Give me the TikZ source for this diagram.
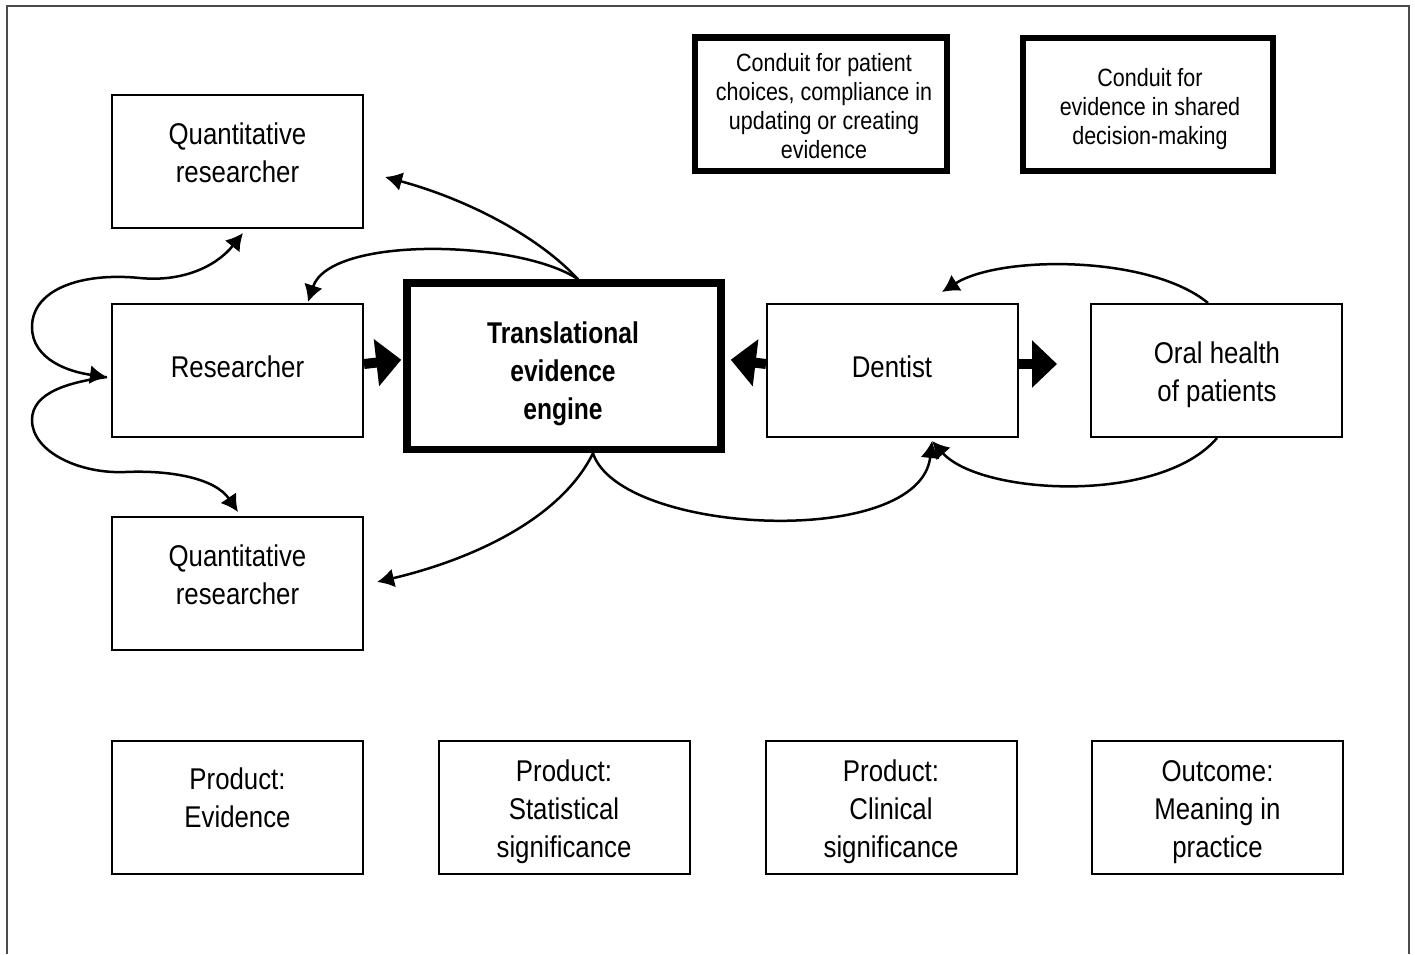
\documentclass[tikz,border=0pt]{standalone}
\usepackage{fontspec}
\setmainfont{Liberation Sans}[FakeStretch=0.86,BoldFeatures={FakeStretch=0.82}]
\usetikzlibrary{arrows.meta}
\begin{document}
\begin{tikzpicture}[x=1pt,y=-1pt,
  box/.style={draw, line width=2pt, minimum width=251pt, minimum height=133pt, inner sep=0pt},
  thickbox/.style={draw, line width=6.5pt, inner sep=0pt},
  txt/.style={align=center, inner sep=0pt, anchor=north, font=\fontsize{30}{38}\selectfont},
  smalltxt/.style={align=center, inner sep=0pt, anchor=north, font=\fontsize{25}{29}\selectfont},
  curvy/.style={line width=2.5pt, -{Latex[length=17pt,width=19pt]}},
  curvyboth/.style={line width=2.5pt, {Latex[length=17pt,width=19pt]}-{Latex[length=17pt,width=19pt]}},
  blockarrow/.style={line width=10pt, -{Triangle[length=25pt,width=46pt]}},
  frameline/.style={draw=black!70, line width=2pt}
]
\useasboundingbox (0,0) rectangle (1415,954);
\draw[frameline] (7,954) -- (7,6) -- (1409,6) -- (1409,954);

% boxes
\node[box] (qr1) at (237.5,161.5) {};
\node[box] (res) at (237.5,370.5) {};
\node[box] (qr2) at (237.5,583.5) {};
\node[thickbox, line width=7.5pt, minimum width=314pt, minimum height=166.5pt] (tee) at (564,366.25) {};
\node[box] (dent) at (892.5,370.5) {};
\node[box] (oral) at (1216.5,370.5) {};
\node[thickbox, minimum width=252pt, minimum height=133.5pt] (top1) at (821,104.25) {};
\node[thickbox, minimum width=250pt, minimum height=133pt] (top2) at (1148,104.5) {};
\node[box] (b1) at (237.5,807.5) {};
\node[box] (b2) at (564.5,807.5) {};
\node[box] (b3) at (891,807.5) {};
\node[box] (b4) at (1217.5,807.5) {};

% texts
\node[txt] (qr1t) at (237.5,123) {Quantitative\\researcher};
\node[txt] (rest) at (237.5,356) {Researcher};
\node[txt] (qr2t) at (237.5,545) {Quantitative\\researcher};
\node[txt, font=\fontsize{30}{38}\selectfont\bfseries] (teet) at (563,322) {Translational\\evidence\\engine};
\node[txt] (dentt) at (892,356) {Dentist};
\node[txt] (oralt) at (1217,342) {Oral health\\of patients};
\node[smalltxt] (top1t) at (824,53) {Conduit for patient\\choices, compliance in\\updating or creating\\evidence};
\node[smalltxt] (top2t) at (1150,68) {Conduit for\\evidence in shared\\decision-making};
\node[txt] (b1t) at (237.5,768) {Product:\\Evidence};
\node[txt] (b2t) at (564,760) {Product:\\Statistical\\significance};
\node[txt] (b3t) at (891,760) {Product:\\Clinical\\significance};
\node[txt] (b4t) at (1217.5,760) {Outcome:\\Meaning in\\practice};

% block arrows
\draw[blockarrow] ([yshift=6.5pt]res.east) -- ([yshift=6.5pt,xshift=-2pt]tee.west);
\draw[blockarrow] ([yshift=6.5pt]dent.west) -- ([yshift=6.5pt,xshift=6pt]tee.east);
\draw[blockarrow] ([yshift=6.5pt]dent.east) -- ([yshift=6.5pt,xshift=-33pt]oral.west);

% left curves
\draw[curvyboth] ([xshift=5.5pt,yshift=-4pt]qr1.south) .. controls (215,268) and (180,282) .. (140,278)
   .. controls (80,272) and (32,290) .. (32,327)
   .. controls (32,360) and (70,372) .. ([xshift=-4pt,yshift=-6.5pt]res.west);
\draw[curvy] ([xshift=-4pt,yshift=-6.5pt]res.west) .. controls (70,382) and (32,392) .. (32,420)
   .. controls (32,452) and (80,474) .. (125,472)
   .. controls (170,470) and (215,478) .. ([xshift=0.5pt,yshift=4pt]qr2.north);

% engine curves
\draw[curvy] ([xshift=14pt]tee.north) .. controls (540,238) and (470,200) .. ([xshift=21pt,yshift=-15.5pt]qr1.east);
\draw[curvy] ([xshift=14pt]tee.north) .. controls (520,240) and (330,235) .. ([xshift=70.5pt,yshift=1pt]res.north);
\draw[curvy] ([xshift=29pt]tee.south) .. controls (560,520) and (470,560) .. ([xshift=13pt,yshift=1.5pt]qr2.east);
\draw[curvy] ([xshift=29pt]tee.south) .. controls (620,535) and (920,550) .. ([xshift=39.5pt,yshift=-3pt]dent.south);

% dentist / oral health curves
\draw[curvy] ([xshift=-8.5pt]oral.north) .. controls (1150,255) and (1000,255) .. ([xshift=49.5pt,yshift=11pt]dent.north);
\draw[curvy] ([xshift=0.5pt]oral.south) .. controls (1160,505) and (980,495) .. ([xshift=39.5pt,yshift=-3pt]dent.south);
\end{tikzpicture}
\end{document}
